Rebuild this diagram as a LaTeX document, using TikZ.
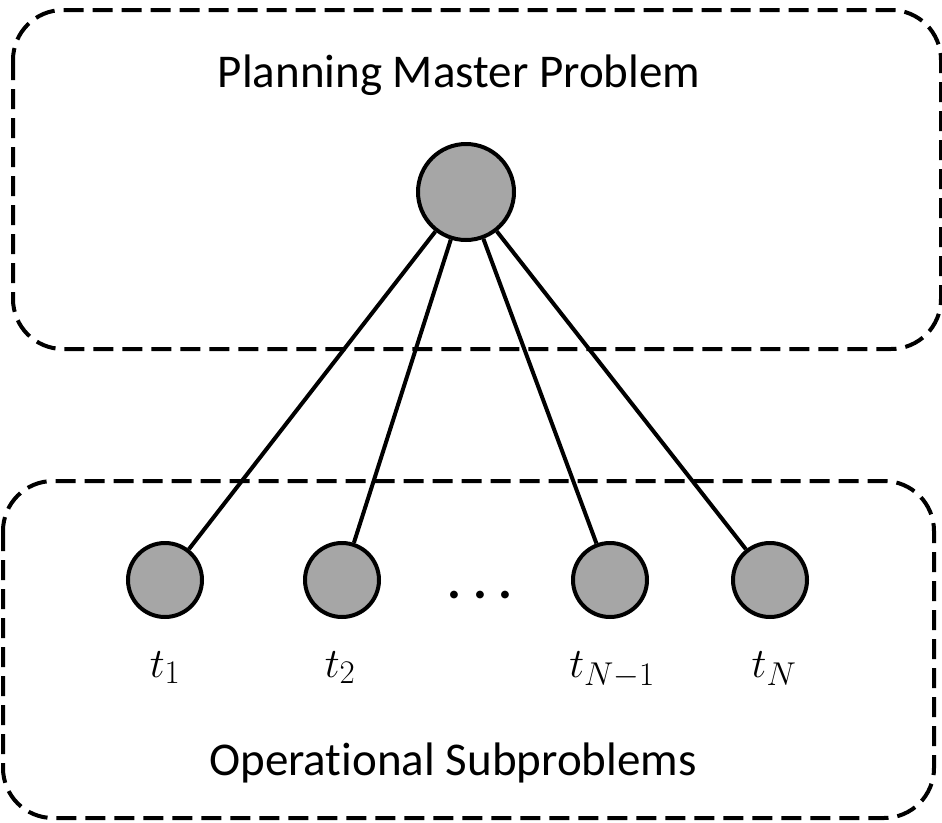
\RequirePackage{fix-cm}
\documentclass[tikz,border=0pt]{standalone}
\usepackage{fontspec}
\setmainfont{Carlito}[Ligatures=NoCommon]
\DeclareMathSizes{42}{42}{33}{24}
\definecolor{nodegray}{HTML}{A6A6A6}
\begin{document}
\begin{tikzpicture}[x=1pt,y=-1pt,
  groupbox/.style={draw=black, line width=4pt, dash pattern=on 20pt off 9pt, rounded corners=50pt},
  bignode/.style={circle, draw=black, line width=4pt, fill=nodegray, minimum size=96pt, inner sep=0pt},
  smallnode/.style={circle, draw=black, line width=4pt, fill=nodegray, minimum size=74pt, inner sep=0pt},
  link/.style={draw=black, line width=4pt},
  title/.style={anchor=base, inner sep=0pt, font=\fontsize{47}{56}\selectfont},
  tlabel/.style={anchor=base, inner sep=0pt, font=\fontsize{42}{50}\selectfont}]
\useasboundingbox (0,0) rectangle (942,822);

% group frames
\draw[groupbox] (13,10) rectangle (941,349);
\draw[groupbox] (3,481) rectangle (934,818);

% group titles
\node[title] (ptitle) at (459,87) {Planning Master Problem};
\node[title] (otitle) at (453,775) {Operational Subproblems};

% master node and subproblem nodes
\node[bignode] (m) at (466,192) {};
\node[smallnode] (s1) at (165,580) {};
\node[smallnode] (s2) at (342,580) {};
\node[smallnode] (s3) at (610,580) {};
\node[smallnode] (s4) at (770,580) {};

% links from master to subproblems
\draw[link] (m) -- (s1);
\draw[link] (m) -- (s2);
\draw[link] (m) -- (s3);
\draw[link] (m) -- (s4);

% ellipsis between the subproblems
\node[title, font=\fontsize{52}{60}\selectfont\bfseries] (dots) at (480,598) {.\kern 12pt.\kern 12pt.};

% time labels
\node[tlabel] (l1) at (165,677) {$t_1$};
\node[tlabel] (l2) at (340,677) {$t_2$};
\node[tlabel] (l3) at (612,677) {$t_{N-1}$};
\node[tlabel] (l4) at (774,677) {$t_N$};
\end{tikzpicture}
\end{document}
